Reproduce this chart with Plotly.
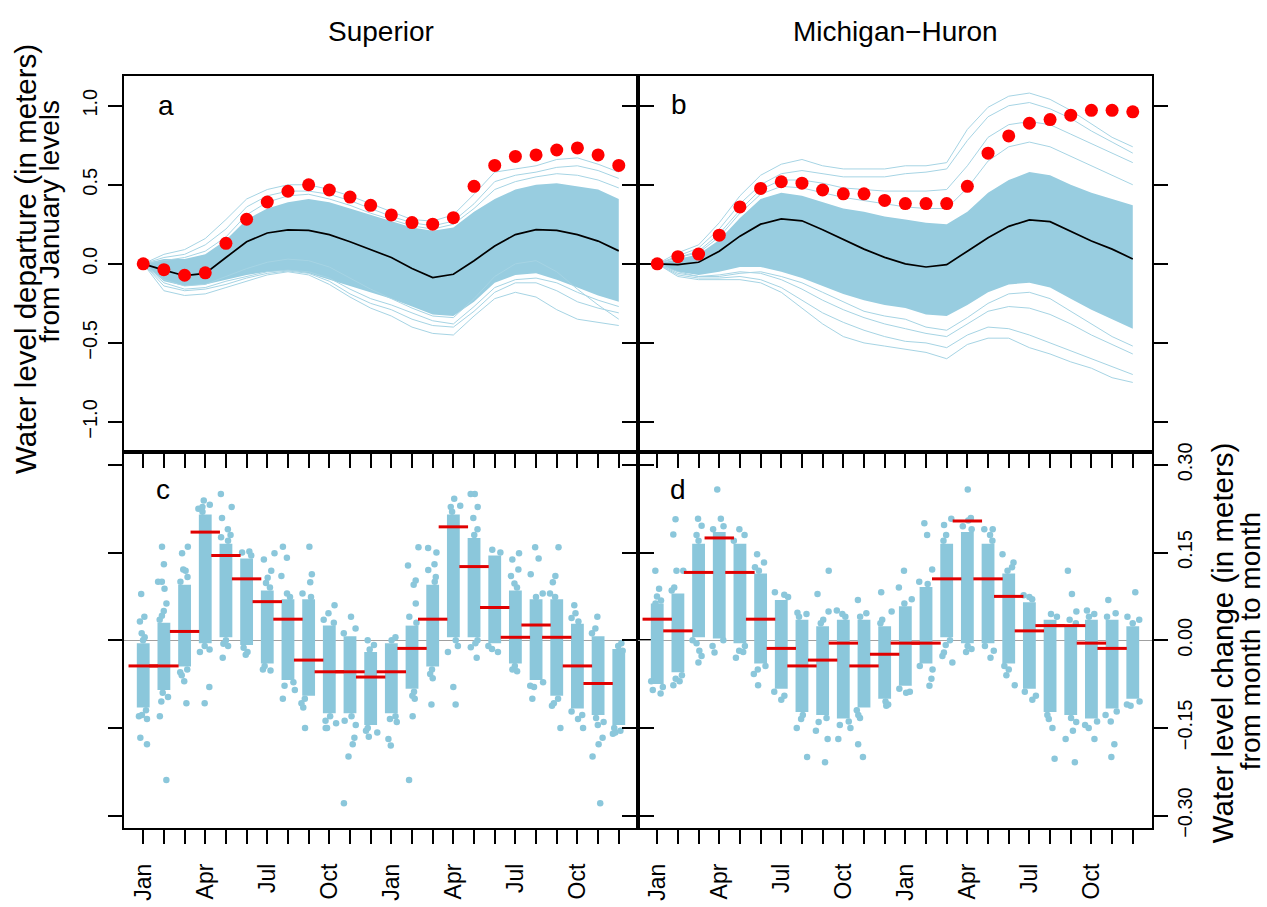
import plotly.graph_objects as go

W, H = 1267, 907

# ---------------- data ----------------
months = list(range(24))
month_text = ["Jan", "", "", "Apr", "", "", "Jul", "", "", "Oct", "", "",
              "Jan", "", "", "Apr", "", "", "Jul", "", "", "Oct", "", ""]

# Panel a (Superior): cumulative departure from January
sup_obs = [0.0, -0.037, -0.072, -0.057, 0.130, 0.282, 0.391, 0.459, 0.500, 0.467, 0.422, 0.370,
           0.309, 0.261, 0.251, 0.292, 0.490, 0.622, 0.679, 0.689, 0.720, 0.733, 0.689, 0.622]
sup_mean = [0.0, -0.04, -0.075, -0.06, 0.04, 0.14, 0.195, 0.215, 0.212, 0.185, 0.14, 0.09,
            0.04, -0.03, -0.087, -0.066, 0.02, 0.113, 0.185, 0.216, 0.212, 0.185, 0.144, 0.082]
sup_core_hi = [0.0, 0.03, 0.03, 0.06, 0.15, 0.28, 0.35, 0.39, 0.41, 0.39, 0.35, 0.31,
               0.27, 0.23, 0.21, 0.23, 0.33, 0.41, 0.47, 0.50, 0.51, 0.49, 0.47, 0.41]
sup_core_lo = [0.0, -0.11, -0.14, -0.13, -0.10, -0.07, -0.05, -0.04, -0.06, -0.10, -0.14, -0.18,
               -0.22, -0.27, -0.32, -0.33, -0.24, -0.12, -0.07, -0.06, -0.10, -0.15, -0.20, -0.24]
sup_runs = [
    [0.0, 0.06, 0.09, 0.16, 0.28, 0.41, 0.47, 0.50, 0.50, 0.47, 0.43, 0.38,
     0.33, 0.28, 0.27, 0.31, 0.44, 0.58, 0.60, 0.62, 0.66, 0.67, 0.63, 0.58],
    [0.0, 0.04, 0.06, 0.12, 0.22, 0.36, 0.43, 0.46, 0.46, 0.44, 0.40, 0.35,
     0.30, 0.26, 0.24, 0.27, 0.38, 0.52, 0.56, 0.58, 0.61, 0.62, 0.59, 0.54],
    [0.0, 0.02, 0.04, 0.08, 0.17, 0.31, 0.39, 0.43, 0.44, 0.41, 0.37, 0.32,
     0.28, 0.24, 0.22, 0.25, 0.35, 0.47, 0.52, 0.55, 0.57, 0.56, 0.53, 0.48],
    [0.0, -0.10, -0.14, -0.13, -0.08, -0.03, 0.01, 0.03, 0.02, -0.02, -0.09, -0.16,
     -0.22, -0.28, -0.33, -0.34, -0.22, -0.08, 0.00, 0.02, -0.05, -0.16, -0.26, -0.35],
    [0.0, -0.12, -0.16, -0.15, -0.11, -0.08, -0.05, -0.04, -0.05, -0.09, -0.16, -0.22,
     -0.26, -0.31, -0.36, -0.38, -0.27, -0.15, -0.10, -0.09, -0.12, -0.18, -0.23, -0.27],
    [0.0, -0.14, -0.17, -0.16, -0.13, -0.09, -0.06, -0.045, -0.06, -0.11, -0.19, -0.25,
     -0.29, -0.35, -0.39, -0.40, -0.30, -0.18, -0.12, -0.12, -0.17, -0.24, -0.28, -0.31],
    [0.0, -0.17, -0.20, -0.19, -0.15, -0.11, -0.07, -0.05, -0.07, -0.13, -0.21, -0.28,
     -0.33, -0.40, -0.44, -0.45, -0.33, -0.22, -0.18, -0.21, -0.29, -0.35, -0.37, -0.39],
]

# Panel b (Michigan-Huron)
mh_obs = [0.0, 0.045, 0.062, 0.181, 0.360, 0.477, 0.519, 0.510, 0.467, 0.443, 0.443, 0.401,
          0.381, 0.381, 0.381, 0.490, 0.700, 0.809, 0.889, 0.912, 0.940, 0.971, 0.971, 0.961]
mh_mean = [0.0, -0.005, 0.01, 0.08, 0.175, 0.251, 0.284, 0.272, 0.216, 0.154, 0.093, 0.041,
           0.0, -0.02, -0.005, 0.08, 0.165, 0.237, 0.278, 0.267, 0.206, 0.144, 0.093, 0.031]
mh_core_hi = [0.0, 0.03, 0.06, 0.15, 0.29, 0.41, 0.45, 0.43, 0.39, 0.35, 0.33, 0.30,
              0.28, 0.26, 0.25, 0.33, 0.45, 0.53, 0.58, 0.56, 0.50, 0.45, 0.41, 0.37]
mh_core_lo = [0.0, -0.05, -0.07, -0.05, -0.02, -0.02, -0.05, -0.09, -0.14, -0.19, -0.23, -0.26,
              -0.28, -0.32, -0.33, -0.26, -0.18, -0.13, -0.12, -0.15, -0.22, -0.29, -0.35, -0.41]
mh_runs = [
    [0.0, 0.07, 0.12, 0.26, 0.43, 0.56, 0.63, 0.66, 0.62, 0.60, 0.60, 0.60,
     0.62, 0.62, 0.64, 0.85, 0.99, 1.06, 1.08, 1.04, 0.97, 0.885, 0.80, 0.74],
    [0.0, 0.05, 0.10, 0.22, 0.38, 0.50, 0.57, 0.59, 0.57, 0.55, 0.55, 0.55,
     0.57, 0.58, 0.60, 0.78, 0.93, 1.00, 1.02, 0.98, 0.92, 0.84, 0.77, 0.70],
    [0.0, 0.04, 0.08, 0.19, 0.34, 0.47, 0.53, 0.53, 0.51, 0.48, 0.47, 0.46,
     0.46, 0.46, 0.47, 0.62, 0.80, 0.88, 0.90, 0.88, 0.82, 0.76, 0.70, 0.64],
    [0.0, 0.04, 0.07, 0.17, 0.32, 0.44, 0.49, 0.48, 0.45, 0.42, 0.40, 0.38,
     0.36, 0.35, 0.35, 0.48, 0.65, 0.74, 0.77, 0.74, 0.68, 0.62, 0.56, 0.50],
    [0.0, -0.05, -0.08, -0.08, -0.06, -0.05, -0.08, -0.12, -0.18, -0.24, -0.30, -0.33,
     -0.35, -0.40, -0.42, -0.34, -0.25, -0.19, -0.18, -0.22, -0.30, -0.38, -0.46, -0.52],
    [0.0, -0.06, -0.08, -0.07, -0.05, -0.06, -0.10, -0.16, -0.23, -0.29, -0.34, -0.38,
     -0.41, -0.44, -0.46, -0.38, -0.30, -0.27, -0.28, -0.32, -0.38, -0.45, -0.51, -0.57],
    [0.0, -0.07, -0.09, -0.09, -0.08, -0.10, -0.15, -0.23, -0.31, -0.37, -0.42, -0.46,
     -0.49, -0.50, -0.53, -0.45, -0.40, -0.41, -0.45, -0.50, -0.55, -0.60, -0.65, -0.70],
    [0.0, -0.08, -0.10, -0.10, -0.10, -0.12, -0.18, -0.28, -0.38, -0.46, -0.50, -0.52,
     -0.54, -0.56, -0.60, -0.51, -0.47, -0.47, -0.53, -0.57, -0.62, -0.66, -0.72, -0.75],
]

# Panel c (Superior): month-to-month change (dense core range + scattered points)
sup_chg_lo = [-0.115, -0.085, -0.045, -0.005, 0.005, -0.008, -0.04, -0.068, -0.095, -0.125, -0.125, -0.145,
              -0.125, -0.083, -0.045, 0.005, 0.005, -0.005, -0.04, -0.068, -0.095, -0.117, -0.128, -0.145]
sup_chg_hi = [-0.005, 0.03, 0.095, 0.215, 0.165, 0.14, 0.085, 0.07, 0.07, 0.025, 0.007, -0.02,
              -0.005, 0.025, 0.095, 0.215, 0.175, 0.145, 0.085, 0.07, 0.07, 0.028, 0.007, -0.015]
sup_chg_pts = [
    [0.079, 0.04, 0.032, 0.012, 0.005, 0.0, -0.12, -0.128, -0.13, -0.135, -0.167, -0.178],
    [0.16, 0.13, 0.10, 0.10, 0.088, 0.063, 0.05, 0.042, 0.035, -0.09, -0.097, -0.105, -0.13, -0.239],
    [0.16, 0.149, 0.121, 0.119, 0.108, 0.10, -0.05, -0.055, -0.06, -0.07, -0.108],
    [0.239, 0.228, 0.232, 0.225, 0.22, -0.01, -0.016, -0.02, -0.08, -0.108],
    [0.25, 0.228, 0.209, 0.19, 0.18, 0.176, 0.17, 0.0, -0.006, -0.01, -0.03],
    [0.152, 0.15, 0.145, -0.013, -0.02, -0.025],
    [0.149, 0.138, 0.119, 0.107, 0.098, 0.09, -0.044, -0.05, -0.052],
    [0.16, 0.141, 0.11, 0.08, 0.074, -0.072, -0.078, -0.085, -0.10],
    [0.16, 0.113, 0.099, 0.08, 0.074, -0.10, -0.108, -0.115, -0.15],
    [0.06, 0.046, 0.035, 0.03, -0.13, -0.138, -0.142, -0.15, -0.15],
    [0.04, 0.02, 0.012, -0.13, -0.138, -0.145, -0.167, -0.178, -0.199, -0.279],
    [0.0, -0.008, -0.016, -0.15, -0.155, -0.158, -0.165],
    [0.005, 0.0, -0.13, -0.135, -0.14, -0.169, -0.18],
    [0.159, 0.128, 0.102, 0.095, 0.063, 0.04, 0.03, -0.088, -0.095, -0.10, -0.13, -0.239],
    [0.158, 0.15, 0.13, 0.12, 0.108, 0.10, -0.05, -0.058, -0.065, -0.11],
    [0.242, 0.23, 0.228, 0.22, 0.0, -0.01, -0.02, -0.08, -0.11],
    [0.25, 0.25, 0.228, 0.209, 0.19, 0.18, 0.0, -0.005, -0.012, -0.03],
    [0.155, 0.15, -0.01, -0.015, -0.02],
    [0.149, 0.138, 0.121, 0.11, 0.097, 0.09, -0.044, -0.05, -0.053],
    [0.159, 0.14, 0.113, 0.08, 0.074, -0.072, -0.078, -0.08, -0.10],
    [0.159, 0.11, 0.099, 0.08, 0.074, -0.10, -0.108, -0.112, -0.15],
    [0.06, 0.046, 0.038, 0.032, -0.122, -0.128, -0.135, -0.15],
    [0.04, 0.02, 0.012, -0.133, -0.14, -0.145, -0.167, -0.178, -0.199, -0.279],
    [-0.005, -0.01, -0.018, -0.15, -0.155, -0.158, -0.16],
]
sup_chg_obs = [-0.044, -0.044, 0.015, 0.185, 0.145, 0.105, 0.066, 0.036, -0.034, -0.054, -0.054, -0.063,
               -0.054, -0.014, 0.036, 0.194, 0.126, 0.056, 0.005, 0.026, 0.005, -0.044, -0.074]

# Panel d (Michigan-Huron)
mh_chg_lo = [-0.075, -0.055, 0.005, 0.003, -0.005, -0.04, -0.083, -0.123, -0.128, -0.134, -0.115, -0.1,
             -0.078, -0.04, 0.005, -0.005, -0.005, -0.04, -0.083, -0.123, -0.128, -0.134, -0.117, -0.1]
mh_chg_hi = [0.063, 0.08, 0.165, 0.185, 0.165, 0.114, 0.069, 0.035, 0.024, 0.035, 0.035, 0.024,
             0.058, 0.091, 0.165, 0.185, 0.165, 0.114, 0.065, 0.035, 0.024, 0.035, 0.035, 0.024]
mh_chg_pts = [
    [0.119, 0.088, 0.063, 0.075, 0.068, -0.08, -0.085, -0.091, -0.07],
    [0.207, 0.181, 0.119, 0.119, 0.09, 0.085, -0.06, -0.066, -0.07, -0.077],
    [0.208, 0.196, 0.18, 0.17, 0.0, -0.005, -0.018, -0.038, -0.027],
    [0.258, 0.208, 0.19, 0.195, 0.0, -0.01, -0.021],
    [0.19, 0.18, 0.17, -0.01, -0.018, -0.03, -0.02],
    [0.147, 0.133, 0.125, 0.119, -0.044, -0.05, -0.058, -0.077],
    [0.082, 0.078, 0.074, -0.088, -0.095, -0.102],
    [0.047, 0.045, 0.04, -0.128, -0.135, -0.15, -0.20],
    [0.119, 0.079, 0.049, 0.035, 0.029, -0.133, -0.14, -0.155, -0.169, -0.209],
    [0.051, 0.045, 0.04, -0.139, -0.145, -0.15, -0.169],
    [0.069, 0.046, 0.04, -0.12, -0.128, -0.133, -0.178, -0.20],
    [0.082, 0.049, 0.035, 0.029, -0.105, -0.11, -0.112],
    [0.119, 0.09, 0.07, 0.063, -0.083, -0.088, -0.09],
    [0.20, 0.18, 0.121, 0.10, 0.096, -0.044, -0.05, -0.066, -0.078],
    [0.208, 0.197, 0.18, 0.17, 0.0, -0.008, -0.021, -0.027, -0.038],
    [0.258, 0.209, 0.205, 0.195, 0.19, -0.01, -0.015, -0.02],
    [0.19, 0.19, 0.18, 0.17, -0.01, -0.018, -0.03],
    [0.147, 0.133, 0.125, 0.119, -0.044, -0.05, -0.06, -0.077],
    [0.077, 0.074, 0.07, -0.088, -0.095, -0.102],
    [0.045, 0.04, -0.128, -0.135, -0.15, -0.203],
    [0.119, 0.079, 0.049, 0.035, 0.029, -0.133, -0.14, -0.155, -0.169, -0.209],
    [0.051, 0.045, 0.04, -0.139, -0.145, -0.15, -0.169],
    [0.069, 0.046, 0.04, -0.122, -0.128, -0.139, -0.178, -0.20],
    [0.082, 0.04, 0.035, 0.029, -0.105, -0.11, -0.112],
]
mh_chg_obs = [0.036, 0.016, 0.116, 0.175, 0.116, 0.036, -0.014, -0.044, -0.034, -0.005, -0.044, -0.024,
              -0.005, -0.005, 0.105, 0.204, 0.105, 0.075, 0.016, 0.025, 0.025, -0.005, -0.014]

# ---------------- styling ----------------
FONT = "Liberation Sans, Arial, Helvetica, sans-serif"
RUN_COLOR = "#A6D4E4"
CORE_COLOR = "#98CDE0"
DOT_COLOR = "#8BC7DB"
RED = "#FF0000"

fig = go.Figure()


def add_top(xa, ya, runs, core_lo, core_hi, mean, obs):
    fig.add_trace(go.Scatter(x=months, y=core_lo, mode="lines", line=dict(width=0, color=CORE_COLOR),
                             xaxis=xa, yaxis=ya, hoverinfo="skip", showlegend=False))
    fig.add_trace(go.Scatter(x=months, y=core_hi, mode="lines", line=dict(width=0, color=CORE_COLOR),
                             fill="tonexty", fillcolor=CORE_COLOR,
                             xaxis=xa, yaxis=ya, hoverinfo="skip", showlegend=False))
    for r in runs:
        fig.add_trace(go.Scatter(x=months, y=r, mode="lines", line=dict(width=1, color=RUN_COLOR),
                                 xaxis=xa, yaxis=ya, hoverinfo="skip", showlegend=False))
    fig.add_trace(go.Scatter(x=months, y=mean, mode="lines", line=dict(width=1.7, color="black"),
                             xaxis=xa, yaxis=ya, showlegend=False))
    fig.add_trace(go.Scatter(x=months, y=obs, mode="markers",
                             marker=dict(size=13, color=RED, line=dict(width=0)),
                             xaxis=xa, yaxis=ya, showlegend=False))


def add_bottom(xa, ya, lo, hi, pts, obs):
    fig.add_trace(go.Bar(x=months, y=[h - l for h, l in zip(hi, lo)], base=lo, width=0.62,
                         marker=dict(color=DOT_COLOR, line=dict(width=0)),
                         xaxis=xa, yaxis=ya, hoverinfo="skip", showlegend=False))
    px = [m for m, vals in zip(months, pts) for _ in vals]
    py = [v for vals in pts for v in vals]
    fig.add_trace(go.Box(x=px, y=py, boxpoints="all", jitter=1, pointpos=0, width=0.7,
                         fillcolor="rgba(0,0,0,0)", line=dict(color="rgba(0,0,0,0)", width=0),
                         marker=dict(size=6.5, color=DOT_COLOR, line=dict(width=0)),
                         xaxis=xa, yaxis=ya, hoverinfo="skip", showlegend=False))
    fig.add_trace(go.Scatter(x=months[:len(obs)], y=obs, mode="markers",
                             marker=dict(symbol="line-ew", size=21, color=RED,
                                         line=dict(width=3, color="#E00000")),
                             xaxis=xa, yaxis=ya, showlegend=False))


add_top("x", "y", sup_runs, sup_core_lo, sup_core_hi, sup_mean, sup_obs)
add_top("x2", "y2", mh_runs, mh_core_lo, mh_core_hi, mh_mean, mh_obs)
add_bottom("x3", "y3", sup_chg_lo, sup_chg_hi, sup_chg_pts, sup_chg_obs)
add_bottom("x4", "y4", mh_chg_lo, mh_chg_hi, mh_chg_pts, mh_chg_obs)

# ---------------- axes ----------------
xl = [124 / W, 638 / W]
xr = [638 / W, 1152 / W]
yt = [1 - 452 / H, 1 - 68 / H]
yb = [1 - 836 / H, 1 - 452 / H]

axis_common = dict(showline=True, linewidth=2, linecolor="black", ticks="outside", ticklen=14,
                   tickwidth=2, tickcolor="black", showgrid=False, zeroline=False,
                   tickfont=dict(family=FONT, size=20, color="black"))

xcommon = dict(axis_common, range=[-0.93, 23.93], tickmode="array", tickvals=months, mirror=True)
month_font = dict(family=FONT, size=23, color="black")

fig.update_layout(
    xaxis=dict(xcommon, domain=xl, anchor="y", showticklabels=False),
    xaxis2=dict(xcommon, domain=xr, anchor="y2", showticklabels=False),
    xaxis3=dict(xcommon, domain=xl, anchor="y3", ticktext=month_text, tickangle=-90,
                tickfont=month_font, ticklabelstandoff=10),
    xaxis4=dict(xcommon, domain=xr, anchor="y4", ticktext=month_text, tickangle=-90,
                tickfont=month_font, ticklabelstandoff=10),
    yaxis=dict(axis_common, domain=yt, anchor="x", range=[-1.19, 1.19], tickmode="array",
               tickvals=[-1, -0.5, 0, 0.5, 1], tickformat=".1f", tickangle=-90, mirror="ticks",
               ticklabelstandoff=3),
    yaxis2=dict(axis_common, domain=yt, anchor="x2", range=[-1.19, 1.19], tickmode="array",
                tickvals=[-1, -0.5, 0, 0.5, 1], showticklabels=False, mirror="ticks"),
    yaxis3=dict(axis_common, domain=yb, anchor="x3", range=[-0.322, 0.322], tickmode="array",
                tickvals=[-0.3, -0.15, 0, 0.15, 0.3], showticklabels=False, mirror="ticks",
                zeroline=True, zerolinecolor="#A0A0A0", zerolinewidth=1),
    yaxis4=dict(axis_common, domain=yb, anchor="x4", range=[-0.322, 0.322], tickmode="array",
                tickvals=[-0.3, -0.15, 0, 0.15, 0.3], tickformat=".2f", tickangle=-90,
                side="right", mirror="ticks",
                zeroline=True, zerolinecolor="#A0A0A0", zerolinewidth=1),
    width=W, height=H, margin=dict(l=0, r=0, t=0, b=0),
    paper_bgcolor="white", plot_bgcolor="white",
    boxmode="overlay", barmode="overlay",
    font=dict(family=FONT, color="black"),
    showlegend=False,
)


def note(text, px, py, size, angle=0):
    fig.add_annotation(text=text, x=px / W, y=1 - py / H, xref="paper", yref="paper",
                       showarrow=False, textangle=angle, xanchor="center", yanchor="middle",
                       font=dict(family=FONT, size=size, color="black"))


note("Superior", 381, 23, 28)
note("Michigan\u2212Huron", 895, 23, 28)
note("a", 166, 98, 28)
note("b", 679, 97, 28)
note("c", 163, 490, 28)
note("d", 678, 490, 28)
note("Water level departure (in meters)", 26, 255, 29.5, -90)
note("from January levels", 50, 217, 28, -90)
note("Water level change (in meters)", 1222, 647, 29.5, -90)
note("from month to month", 1250, 645, 28, -90)

fig.write_html("out.html", config={"displayModeBar": False},
               post_script="document.body.style.margin='0px';")
